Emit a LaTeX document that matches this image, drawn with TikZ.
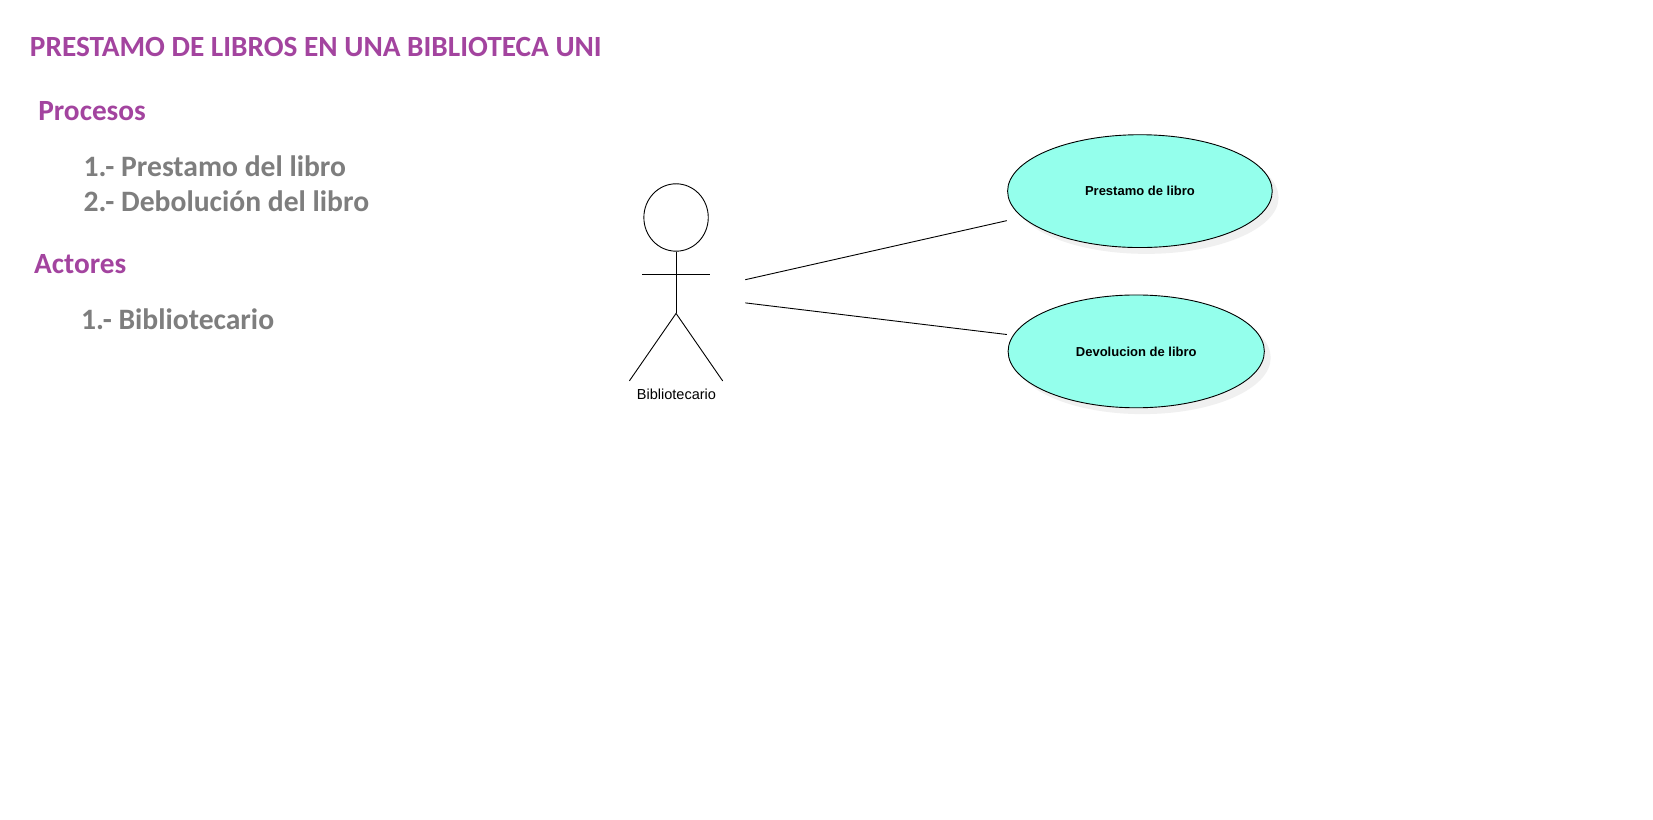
\documentclass[tikz,border=0pt]{standalone}
\usepackage{fontspec}
\setmainfont{Carlito}
\newfontfamily\uml{Liberation Sans}
\usetikzlibrary{shapes.geometric}
\definecolor{headc}{HTML}{A3449F}
\definecolor{bodyc}{HTML}{7E7E7E}
\definecolor{casec}{HTML}{94FFEC}
\definecolor{shadowc}{HTML}{F0F0F0}
\tikzset{
  px/.style={x=0.52706pt,y=-0.52706pt},
  heading/.style={anchor=base west,inner sep=0pt,text=headc,font=\fontsize{14.65}{17}\selectfont\bfseries},
  bodytext/.style={anchor=base west,inner sep=0pt,text=bodyc,font=\fontsize{14.8}{17}\selectfont\bfseries},
  usecase/.style={draw=black,line width=0.45pt,fill=casec,ellipse,inner sep=0pt,font=\uml\fontsize{6.5}{8}\selectfont\bfseries},
  shadowcase/.style={fill=shadowc,ellipse,inner sep=0pt},
  figure line/.style={line width=0.45pt,black},
  link/.style={line width=0.45pt,black}
}
\begin{document}
\begin{tikzpicture}[px]
\useasboundingbox (0,0) rectangle (1568,776.9);
\fill[white] (0,0) rectangle (1568,776.9);
\node[heading] (title) at (28,54) {PRESTAMO DE LIBROS EN UNA BIBLIOTECA UNI};
\node[heading] (proc) at (36,114.5) {Procesos};
\node[bodytext] (p1) at (79,167) {1.- Prestamo del libro};
\node[bodytext] (p2) at (79,201) {2.- Debolución del libro};
\node[heading] (act) at (32,259) {Actores};
\node[bodytext] (a1) at (76.5,313) {1.- Bibliotecario};

\node[shadowcase,minimum width=132.3pt,minimum height=56.4pt] (s1) at (1087.3,187.3) {};
\node[shadowcase,minimum width=128.1pt,minimum height=56.4pt] (s2) at (1083.8,339.3) {};
\node[usecase,minimum width=132.3pt,minimum height=56.4pt] (c1) at (1081.3,181.3) {Prestamo de libro};
\node[usecase,minimum width=128.1pt,minimum height=56.4pt] (c2) at (1077.8,333.3) {Devolucion de libro};

\node[draw=black,line width=0.45pt,ellipse,minimum width=32.2pt,minimum height=33.7pt,inner sep=0pt] (head) at (641.3,206.3) {};
\coordinate (hip) at (641.3,297.3);
\coordinate (armL) at (609.3,260.3);
\coordinate (armR) at (673.3,260.3);
\coordinate (legL) at (597,361.3);
\coordinate (legR) at (685.5,361.3);
\draw[figure line] (head.south) -- (hip);
\draw[figure line] (armL) -- (armR);
\draw[figure line] (legL) -- (hip) -- (legR);
\node[inner sep=0pt,font=\uml\fontsize{7.25}{9}\selectfont] (lab) at (641.7,374.3) {Bibliotecario};

\coordinate (f1) at (707,265.3);
\coordinate (f2) at (707,287.3);
\coordinate (e1) at (955,209.3);
\coordinate (e2) at (955,317.3);
\draw[link] (f1) -- (e1);
\draw[link] (f2) -- (e2);
\end{tikzpicture}
\end{document}
